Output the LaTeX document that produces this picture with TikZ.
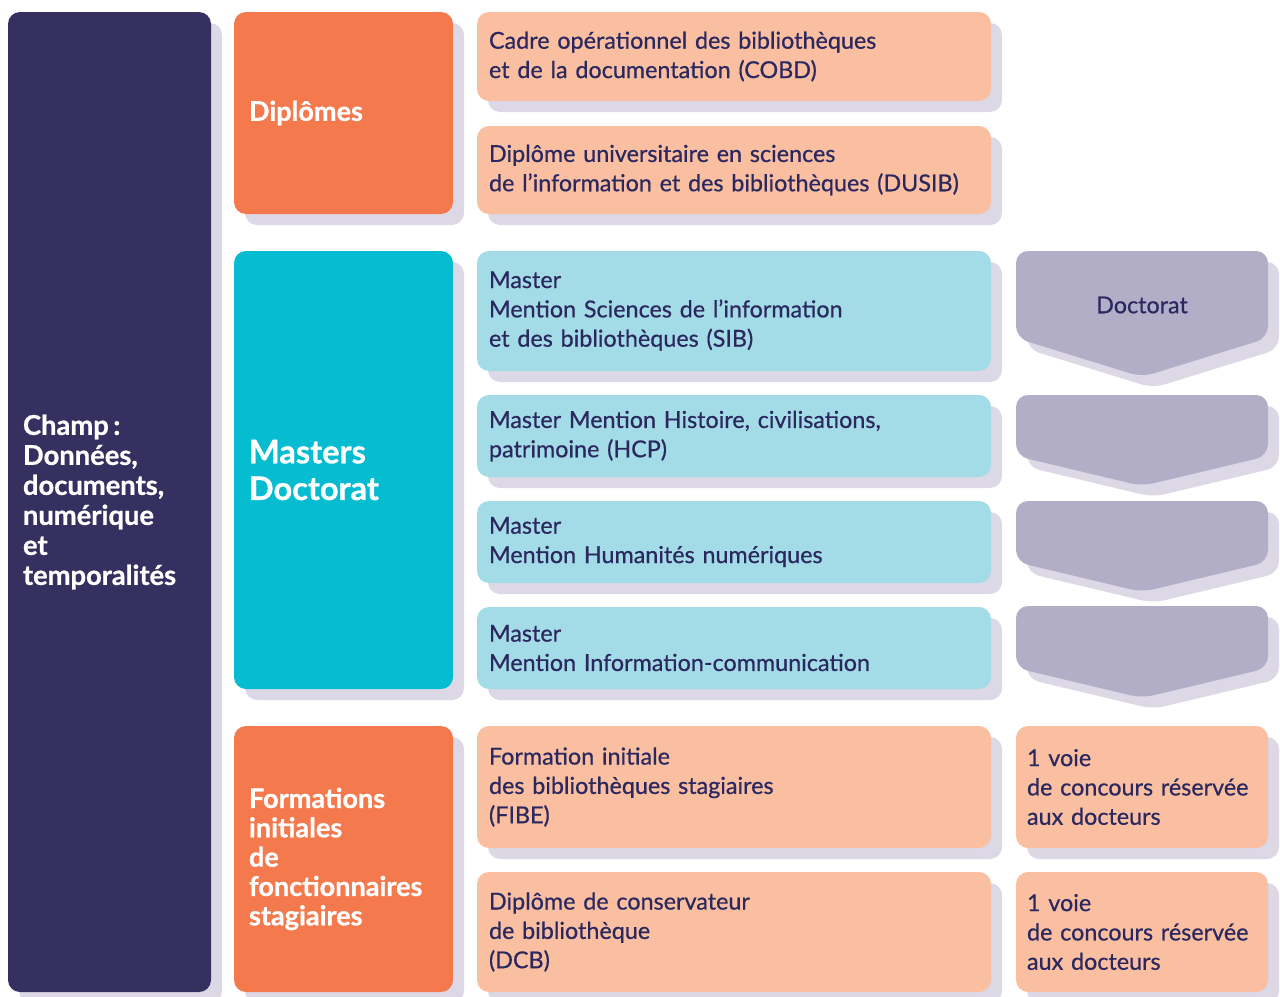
\documentclass[tikz,border=0pt]{standalone}
\usepackage{fontspec}
\setmainfont{Lato}
\newfontfamily\medfont{Lato}[FakeBold=0.6]
\newfontfamily\hvyfont{Lato}[BoldFeatures={FakeBold=0.8}]
\usetikzlibrary{shadows}
\definecolor{navy}{HTML}{35305F}
\definecolor{txt}{HTML}{2B2860}
\definecolor{orng}{HTML}{F47A4E}
\definecolor{lorng}{HTML}{F9BFA0}
\definecolor{teal}{HTML}{05BCD1}
\definecolor{lteal}{HTML}{A3DCE6}
\definecolor{lav}{HTML}{B3AEC8}
\definecolor{shd}{HTML}{DCD8E6}
\tikzset{
  bx/.style={rounded corners=9pt, align=left, inner ysep=0pt,
    drop shadow={shadow xshift=8.25pt, shadow yshift=-8.25pt, fill=shd, opacity=1}},
  colA/.style={bx, minimum width=152.25pt, text width=129.75pt, inner xsep=11.25pt},
  colB/.style={bx, minimum width=164.25pt, text width=141.75pt, inner xsep=11.25pt},
  body/.style={text=txt, font=\medfont\fontsize{17.5}{22}\selectfont},
  colC/.style={bx, minimum width=385.5pt, text width=367.5pt, inner xsep=9pt, fill=#1, body},
  colD/.style={bx, minimum width=189pt, text width=172.5pt, inner xsep=8.25pt, fill=lorng, body},
  head/.style={text=white, font=\hvyfont\bfseries\fontsize{20.3}{22}\selectfont},
}
\newcommand\docarrow[3]{%
  \fill[shd, rounded corners=9pt] (1027,#1+11) -- (1279,#1+11) -- (1279,#2+11) -- (1153,#3+11) -- (1027,#2+11) -- cycle;
  \fill[lav, rounded corners=9pt] (1016,#1) -- (1268,#1) -- (1268,#2) -- (1142,#3) -- (1016,#2) -- cycle;
}
\begin{document}
\begin{tikzpicture}[x=0.75pt, y=-0.75pt]
\useasboundingbox (0,0) rectangle (1280,996);
% column 1
\node[colA, fill=navy, minimum height=735pt, text=white,
  font=\hvyfont\bfseries\fontsize{20.5}{22.5}\selectfont] (champ) at (109.5,502)
  {Champ\,:\\Données,\\documents,\\numérique\\et\\temporalités};
% column 2
\node[colB, fill=orng, minimum height=151.5pt, head] (dipl) at (343.5,113) {Diplômes};
\node[colB, fill=teal, minimum height=328.5pt, text=white,
  font=\hvyfont\bfseries\fontsize{24.4}{27.5}\selectfont] (mast) at (343.5,470) {Masters\\Doctorat};
\node[colB, fill=orng, minimum height=199.5pt, head] (form) at (343.5,859)
  {Formations\\initiales\\de\\fonctionnaires\\stagiaires};
% column 3
\node[colC=lorng, minimum height=66.75pt] (cobd) at (734,56.5)
  {Cadre opérationnel des bibliothèques\\et de la documentation (COBD)};
\node[colC=lorng, minimum height=66pt] (dusib) at (734,170)
  {Diplôme universitaire en sciences\\de l’information et des bibliothèques (DUSIB)};
\node[colC=lteal, minimum height=90pt] (sib) at (734,311)
  {Master\\Mention Sciences de l’information\\et des bibliothèques (SIB)};
\node[colC=lteal, minimum height=61.5pt] (hcp) at (734,436)
  {Master Mention Histoire, civilisations,\\patrimoine (HCP)};
\node[colC=lteal, minimum height=61.5pt] (hn) at (734,542)
  {Master\\Mention Humanités numériques};
\node[colC=lteal, minimum height=61.5pt] (ic) at (734,648)
  {Master\\Mention Information-communication};
\node[colC=lorng, minimum height=91.5pt] (fibe) at (734,787)
  {Formation initiale\\des bibliothèques stagiaires\\(FIBE)};
\node[colC=lorng, minimum height=90pt] (dcb) at (734,932)
  {Diplôme de conservateur\\de bibliothèque\\(DCB)};
% column 4
\docarrow{251}{338}{377}
\docarrow{395}{456}{486}
\docarrow{501}{562}{592}
\docarrow{606}{668}{698}
\node[body] (doct) at (1142,305) {Doctorat};
\node[colD, minimum height=91.5pt] (voie1) at (1142,787)
  {1 voie\\de concours réservée\\aux docteurs};
\node[colD, minimum height=90pt] (voie2) at (1142,932)
  {1 voie\\de concours réservée\\aux docteurs};
\end{tikzpicture}
\end{document}
